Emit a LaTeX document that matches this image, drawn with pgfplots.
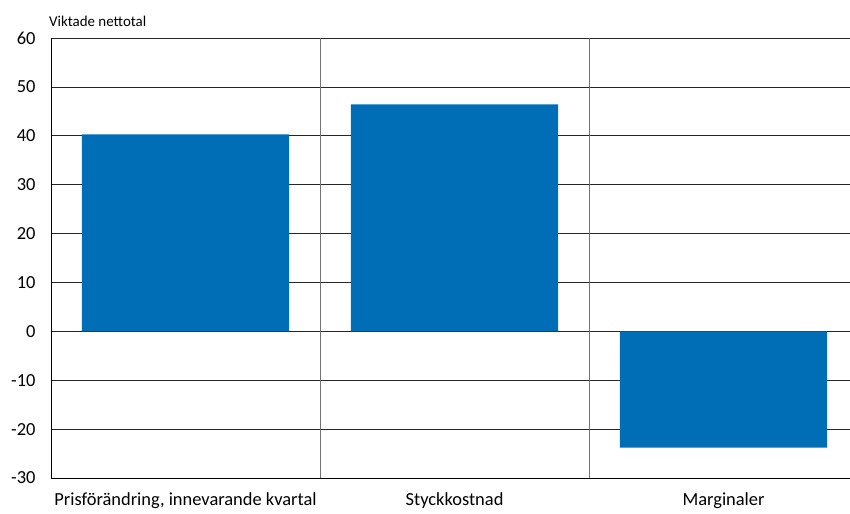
\documentclass[border=0pt]{standalone}
\usepackage{pgfplots}
\pgfplotsset{compat=1.18}
\usepackage{fontspec}
\setmainfont{Carlito}
\definecolor{barblue}{RGB}{0,110,183}
\begin{document}
\begin{tikzpicture}
\useasboundingbox (0,0) rectangle (850bp,514bp);
\begin{axis}[
  at={(51bp,36bp)}, anchor=south west,
  scale only axis,
  width=799bp, height=440bp,
  xmin=-0.5, xmax=2.47,
  ymin=-30, ymax=60,
  ytick={-30,-20,...,60},
  xtick={0,1,2},
  xticklabels={{Prisförändring, innevarande kvartal}, Styckkostnad, Marginaler},
  axis x line*=bottom,
  axis y line*=left,
  axis line style={black, line width=0.9pt},
  major tick length=0pt,
  ymajorgrids,
  major grid style={black!85, line width=0.6pt},
  extra x ticks={0.5,1.5},
  extra x tick labels={},
  extra x tick style={grid=major, major grid style={gray!90!black, line width=0.6pt}},
  /pgf/number format/assume math mode=true,
  tick label style={font=\fontsize{18.5}{20}\selectfont},
  yticklabel style={xshift=-12bp},
  xticklabel style={yshift=-11bp},
  ybar, bar width=0.77,
  clip=false,
]
\addplot[fill=barblue, draw=none] coordinates {(0,40.3) (1,46.4) (2,-23.8)};
\node[anchor=south west, inner sep=0pt, font=\fontsize{15}{17}\selectfont] at (rel axis cs:0,1) [xshift=-2bp, yshift=11bp] {Viktade nettotal};
\end{axis}
\end{tikzpicture}
\end{document}
